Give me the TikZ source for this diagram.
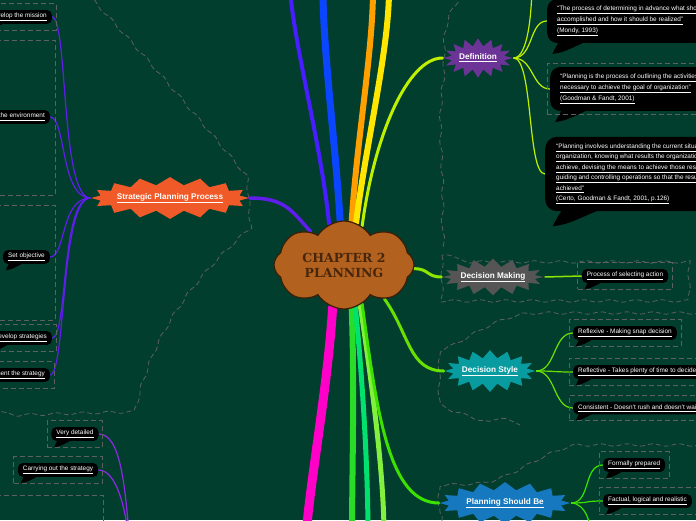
\documentclass[tikz,border=0pt]{standalone}
\usepackage{fontspec}
\setmainfont{Liberation Sans}
\newfontfamily\chapterfont{DejaVu Serif}
\usepackage{xcolor}
\usepackage{tikz}
\usetikzlibrary{shapes.symbols, positioning, fit, calc, backgrounds, decorations.pathmorphing}

\definecolor{board}{RGB}{2,62,46}
\definecolor{framegray}{RGB}{92,96,94}
\definecolor{cloudfill}{RGB}{178,98,30}
\definecolor{cloudline}{RGB}{60,30,8}
\definecolor{cloudtext}{RGB}{72,38,12}
\definecolor{sppfill}{RGB}{240,90,40}
\definecolor{deffill}{RGB}{108,52,150}
\definecolor{dmfill}{RGB}{85,85,85}
\definecolor{dsfill}{RGB}{8,155,160}
\definecolor{psbfill}{RGB}{22,120,190}
\definecolor{violetline}{RGB}{95,30,235}
\definecolor{purpleline}{RGB}{140,40,230}
\definecolor{limeline}{RGB}{190,240,0}
\definecolor{greenA}{RGB}{140,230,0}
\definecolor{greenB}{RGB}{105,225,0}
\definecolor{greenC}{RGB}{60,225,0}
\definecolor{stripA}{RGB}{70,30,255}
\definecolor{stripB}{RGB}{10,70,255}
\definecolor{stripC}{RGB}{255,160,0}
\definecolor{stripD}{RGB}{255,230,0}
\definecolor{stripE}{RGB}{255,0,200}
\definecolor{stripF}{RGB}{40,220,40}
\definecolor{stripG}{RGB}{0,225,110}
\definecolor{stripH}{RGB}{130,240,60}

\begin{document}
\begin{tikzpicture}[x=1pt, y=-1pt,
    topic/.style = {shape=starburst, random starburst=0, starburst points=16,
      starburst point height=8pt, inner ysep=4.3pt, text=white,
      font=\bfseries\fontsize{8.2}{10}\selectfont},
    callout/.style = {fill=black, rounded corners=5pt, text=white, align=left,
      inner xsep=5pt, inner ysep=3pt, font=\fontsize{6.4}{11}\selectfont,
      append after command={\pgfextra{\fill[black, sharp corners]
        ($(\tikzlastnode.south west)+(7*#1,-2)$) .. controls +(-2*#1,3*#1) ..
        ($(\tikzlastnode.south west)+(3*#1,6*#1)$) .. controls +(6*#1,-1*#1) ..
        ($(\tikzlastnode.south west)+(22*#1,-2)$) -- cycle;}}},
    callout/.default = 1,
    childframe/.style = {draw=framegray, dash pattern=on 5pt off 3pt,
      line width=0.8pt, inner xsep=4pt, inner ysep=6pt},
    boundary/.style = {draw=framegray, dash pattern=on 5pt off 3pt,
      line width=0.8pt, decorate,
      decoration={snake, amplitude=1.2pt, segment length=26pt}},
    branch/.style = {line cap=round},
    twig/.style = {line width=1.2pt}
  ]
  \useasboundingbox (0,0) rectangle (696,520);
  \clip (0,0) rectangle (696,520);

  % centre
  \node[cloud, cloud puffs=8, cloud puff arc=115, cloud ignores aspect,
    minimum width=140pt, minimum height=88pt, inner sep=0pt,
    fill=cloudfill, draw=cloudline, line width=1.2pt, align=center,
    text=cloudtext, font=\chapterfont\bfseries\fontsize{12.5}{15}\selectfont]
    (chapter) at (344,265) {CHAPTER 2\\PLANNING};

  % main topics
  \node[topic, fill=sppfill, inner xsep=-3pt] (spp) at (170,198)
    {\underline{Strategic Planning Process}};
  \node[topic, fill=deffill, inner xsep=0pt] (definition) at (478,58)
    {\underline{Definition}};
  \node[topic, fill=dmfill, inner xsep=-2.2pt, inner ysep=2.5pt] (decmaking) at (493,277)
    {\underline{Decision Making}};
  \node[topic, fill=dsfill, inner xsep=-1.6pt] (decstyle) at (490,371)
    {\underline{Decision Style}};
  \node[topic, fill=psbfill, inner xsep=1.8pt] (shouldbe) at (505,503)
    {\underline{Planning Should Be}};

  % strategic planning process
  \node[callout, anchor=east] (mission) at (52,17) {\underline{Develop the mission}};
  \node[callout, anchor=east] (environ) at (50,117) {\underline{Analyze the environment}};
  \node[callout, anchor=east] (objective) at (50,257) {\underline{Set objective}};
  \node[callout, anchor=east] (strategies) at (52,338) {\underline{Develop strategies}};
  \node[callout, anchor=east] (implement) at (50,375) {\underline{Implement the strategy}};

  % lower left
  \node[callout] (detailed) at (75,434) {\underline{Very detailed}};
  \node[callout] (carrying) at (58,470) {\underline{Carrying out the strategy}};

  % definition
  \node[callout=1.8, rounded corners=10pt, inner xsep=10pt, inner ysep=7pt, anchor=west]
    (def1) at (547,21)
    {\underline{“The process of determining in advance what should be}\\
     \underline{accomplished and how it should be realized”}\\
     \underline{(Mondy, 1993)}};
  \node[callout=1.8, rounded corners=10pt, inner xsep=10pt, inner ysep=7pt, anchor=west]
    (def2) at (550,89)
    {\underline{“Planning is the process of outlining the activities}\\
     \underline{necessary to achieve the goal of organization”}\\
     \underline{(Goodman \& Fandt, 2001)}};
  \node[callout=2.5, rounded corners=12pt, inner xsep=11pt, inner ysep=7pt, anchor=west,
    font=\fontsize{6.4}{10.5}\selectfont]
    (def3) at (545,174)
    {\underline{“Planning involves understanding the current situation of}\\
     \underline{organization, knowing what results the organization wants to}\\
     \underline{achieve, devising the means to achieve those results,}\\
     \underline{guiding and controlling operations so that the results are}\\
     \underline{achieved”}\\
     \underline{(Certo, Goodman \& Fandt, 2001, p.126)}};

  % decision making, decision style, planning should be
  \node[callout] (selecting) at (625,276) {\underline{Process of selecting action}};
  \node[callout, anchor=west] (reflexive) at (573,333) {\underline{Reflexive - Making snap decision}};
  \node[callout, anchor=west] (reflective) at (573,372) {\underline{Reflective - Takes plenty of time to decide}};
  \node[callout, anchor=west] (consistent) at (573,408) {\underline{Consistent - Doesn't rush and doesn't wait}};
  \node[callout, anchor=west] (formally) at (603,465) {\underline{Formally prepared}};
  \node[callout, anchor=west] (factual) at (603,501) {\underline{Factual, logical and realistic}};

  % frames round the callouts
  \node[childframe, fit=(mission)] (mission-frame) {};
  \node[childframe, fit=(strategies)] (strategies-frame) {};
  \node[childframe, fit=(implement)] (implement-frame) {};
  \node[childframe, fit=(detailed)] (detailed-frame) {};
  \node[childframe, fit=(carrying)] (carrying-frame) {};
  \node[childframe, fit=(def2), inner xsep=3pt, inner ysep=3pt] (def2-frame) {};
  \node[childframe, fit=(selecting)] (selecting-frame) {};
  \node[childframe, fit=(reflexive)] (reflexive-frame) {};
  \node[childframe, fit=(reflective)] (reflective-frame) {};
  \node[childframe, fit=(consistent)] (consistent-frame) {};
  \node[childframe, fit=(formally)] (formally-frame) {};
  \node[childframe, fit=(factual)] (factual-frame) {};
  \draw[childframe] (-5,40) rectangle (55,195);
  \draw[childframe] (-5,205) rectangle (55,320);
  \draw[childframe] (-5,495) rectangle (103,530);

  % hidden ends
  \coordinate (hiddenN1) at (290,-10);
  \coordinate (hiddenN2) at (323,-10);
  \coordinate (hiddenN3) at (373,-10);
  \coordinate (hiddenN4) at (389,-10);
  \coordinate (hiddenS1) at (306,535);
  \coordinate (hiddenS2) at (352,535);
  \coordinate (hiddenS3) at (368,535);
  \coordinate (hiddenS4) at (384,535);
  \coordinate (hiddenbelow) at (130,545);
  \coordinate (hiddendef) at (532,-20);
  \coordinate (hiddenpsb) at (592,545);

  \begin{scope}[on background layer]
    \clip (0,0) rectangle (696,520);
    \fill[board] (0,0) rectangle (696,520);

    % group outlines
    \draw[boundary] (88,-5) .. controls (140,50) and (200,120) .. (246,176)
      -- (249,222) .. controls (200,265) and (150,320) .. (132,408) -- (-5,412);
    \draw[boundary] (462,-5) .. controls (440,25) and (452,50) .. (446,85)
      .. controls (440,130) and (452,190) .. (443,248);
    \draw[boundary] (442,255) rectangle (680,301);
    \draw[boundary] (700,313) -- (545,313) .. controls (500,313) and (470,345) .. (442,352)
      -- (442,395) .. controls (465,408) and (495,412) .. (520,425);
    \draw[boundary] (700,445) -- (575,445) .. controls (540,455) and (515,480) .. (482,482)
      -- (442,484) -- (442,525);

    % branches from the centre
    \draw[branch, stripA, line width=4pt] (chapter.110) .. controls +(-8,-80) and +(5,60) .. (hiddenN1);
    \draw[branch, stripB, line width=7pt] (chapter.95) .. controls +(-5,-80) and +(0,60) .. (hiddenN2);
    \draw[branch, stripC, line width=6pt] (chapter.80) .. controls +(5,-80) and +(0,60) .. (hiddenN3);
    \draw[branch, stripD, line width=6pt] (chapter.74) .. controls +(10,-80) and +(0,60) .. (hiddenN4);
    \draw[branch, stripE, line width=9pt] (chapter.255) .. controls +(-5,80) and +(5,-60) .. (hiddenS1);
    \draw[branch, stripF, line width=6pt] (chapter.280) .. controls +(3,80) and +(0,-60) .. (hiddenS2);
    \draw[branch, stripG, line width=5pt] (chapter.285) .. controls +(8,80) and +(0,-60) .. (hiddenS3);
    \draw[branch, stripH, line width=5pt] (chapter.292) .. controls +(12,80) and +(0,-60) .. (hiddenS4);
    \draw[branch, violetline, line width=3.5pt] (chapter.135) .. controls +(-20,-22) and +(35,0) .. (spp.east);
    \draw[branch, limeline, line width=3pt] (chapter.65) .. controls +(12,-90) and +(-35,0) .. (definition.west);
    \draw[branch, greenA, line width=3pt] (chapter.-3) .. controls +(15,0) and +(-15,0) .. (decmaking.west);
    \draw[branch, greenB, line width=3pt] (chapter.-40) .. controls +(25,35) and +(-35,0) .. (decstyle.west);
    \draw[branch, greenC, line width=3pt] (chapter.-65) .. controls +(15,110) and +(-50,0) .. (shouldbe.west);

    % twigs to the callouts
    \foreach \kid in {mission, environ, objective, strategies, implement}
      \draw[twig, violetline] (spp.west) .. controls +(-30,0) and +(16,0) .. (\kid.east);
    \draw[twig, purpleline] (detailed.east) .. controls +(22,0) and +(-5,-60) .. (hiddenbelow);
    \draw[twig, purpleline] (carrying.east) .. controls +(18,0) and +(-5,-40) .. (hiddenbelow);
    \foreach \kid in {def1, def2, def3}
      \draw[twig, limeline] (definition.east) .. controls +(20,0) and +(-18,0) .. (\kid.west);
    \draw[twig, limeline] (definition.east) .. controls +(15,0) and +(0,30) .. (hiddendef);
    \draw[twig, greenA, line width=1.5pt] (decmaking.east) -- (selecting.west);
    \foreach \kid in {reflexive, reflective, consistent}
      \draw[twig, greenB] (decstyle.east) .. controls +(20,0) and +(-20,0) .. (\kid.west);
    \foreach \kid in {formally, factual}
      \draw[twig, greenC] (shouldbe.east) .. controls +(20,0) and +(-20,0) .. (\kid.west);
    \draw[twig, greenC] (shouldbe.east) .. controls +(15,0) and +(0,-20) .. (hiddenpsb);
  \end{scope}
\end{tikzpicture}
\end{document}
